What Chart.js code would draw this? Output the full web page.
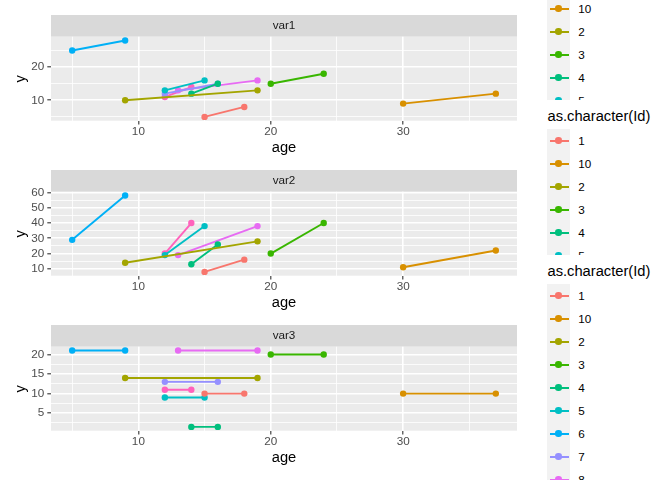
<!DOCTYPE html>
<html>
<head>
<meta charset="utf-8">
<script src="https://cdn.jsdelivr.net/npm/chart.js@4"></script>
<style>
  html, body { margin: 0; padding: 0; background: #fff; }
  body { width: 672px; height: 480px; position: relative; overflow: hidden;
         font-family: 'Liberation Sans', Arial, sans-serif; }
  canvas { position: absolute; left: 0; }
  .legend { position: absolute; left: 540px; width: 132px; height: 270px; background: #fff; }
  .legend-title { position: absolute; left: 7.5px; top: 0; height: 33.4px; line-height: 33.4px;
                  font-size: 14.7px; color: #000; white-space: nowrap; }
  .legend-row { position: absolute; left: 0; width: 132px; height: 23px; }
  .legend-key { position: absolute; left: 7px; top: 0; width: 23px; height: 23px; background: #F2F2F2; }
  .legend-line { position: absolute; left: 2.5px; top: 10.5px; width: 19px; height: 1.9px; }
  .legend-dot { position: absolute; left: 8.3px; top: 8.3px; width: 6.4px; height: 6.4px; border-radius: 50%; }
  .legend-label { position: absolute; left: 38.3px; top: 0; line-height: 23px; font-size: 11.7px; color: #000; }
</style>
</head>
<body>
<canvas id="chart1" width="672" height="160" style="top:0px"></canvas>
<canvas id="chart2" width="672" height="160" style="top:155px"></canvas>
<canvas id="chart3" width="672" height="160" style="top:310px"></canvas>
<script>
// ids in ggplot's (character) sort order
var ids = ['1', '10', '2', '3', '4', '5', '6', '7', '8', '9'];
var idColors = ['#F8766D', '#D89000', '#A3A500', '#39B600', '#00BF7D',
                '#00BFC4', '#00B0F6', '#9590FF', '#E76BF3', '#FF62BC'];

// two observations per id
var ages = [[15, 18], [30, 37], [9, 19], [20, 24], [14, 16],
            [12, 15], [5, 9], [12, 16], [13, 19], [12, 14]];
var var1 = [[5, 8], [9, 12], [10, 13], [15, 18], [12, 15],
            [13, 16], [25, 28], [12, 15], [13, 16], [11, 14]];
var var2 = [[8, 16], [11, 22], [14, 28], [20, 40], [13, 26],
            [19, 38], [29, 58], [null, null], [19, 38], [20, 40]];
var var3 = [[10, 10], [10, 10], [14, 14], [20, 20], [1.5, 1.5],
            [9, 9], [21, 21], [13, 13], [21, 21], [11, 11]];

var facetNames = ['var1', 'var2', 'var3'];

var xMajor = [10, 20, 30];
var xMinor = [5, 15, 25, 35];
var yMajor1 = [10, 20];
var yMinor1 = [5, 15, 25];
var yMajor2 = [10, 20, 30, 40, 50, 60];
var yMinor2 = [15, 25, 35, 45, 55];
var yMajor3 = [5, 10, 15, 20];
var yMinor3 = [2.5, 7.5, 12.5, 17.5];

var FONT = "'Liberation Sans', Arial, sans-serif";

// ggplot style 5% expansion of the data range
function expandRange(values) {
    var flat = [];
    values.forEach(function(p) { p.forEach(function(v) { if (v !== null) flat.push(v); }); });
    var lo = Math.min.apply(null, flat), hi = Math.max.apply(null, flat);
    var pad = (hi - lo) * 0.05;
    return { min: lo - pad, max: hi + pad };
}

function makeTicks(major, minor) {
    return major.concat(minor).sort(function(a, b) { return a - b; }).map(function(v) {
        return { value: v, isMajor: major.indexOf(v) >= 0 };
    });
}

function gridOptions() {
    return {
        color: '#FFFFFF',
        lineWidth: function(ctx) { return ctx.tick && ctx.tick.isMajor ? 1.6 : 0.8; },
        drawTicks: true,
        tickLength: 3.7,
        tickWidth: 1.1,
        tickColor: function(ctx) { return ctx.tick && ctx.tick.isMajor ? '#333333' : 'rgba(0,0,0,0)'; }
    };
}

function tickLabel(value, index, ticks) {
    return ticks[index].isMajor ? String(value) : '';
}

var panelPlugin = {
    id: 'panel',
    beforeDraw: function(chart) {
        var a = chart.chartArea, ctx = chart.ctx;
        ctx.save();
        ctx.fillStyle = '#D9D9D9';
        ctx.fillRect(a.left, 15, a.right - a.left, a.top - 15);
        ctx.fillStyle = '#EBEBEB';
        ctx.fillRect(a.left, a.top, a.right - a.left, a.bottom - a.top);
        ctx.restore();
    }
};

function makeChart(canvasId, name, values, yMajor, yMinor) {
    var xr = expandRange(ages);
    var yr = expandRange(values);
    var datasets = ids.map(function(id, i) {
        return {
            label: id,
            data: ages[i].map(function(a, j) { return { x: a, y: values[i][j] }; }),
            borderColor: idColors[i],
            backgroundColor: idColors[i],
            showLine: true,
            borderWidth: 1.9,
            pointRadius: 3.2,
            pointBorderWidth: 0,
            pointHoverRadius: 3.2
        };
    });
    return new Chart(document.getElementById(canvasId), {
        type: 'scatter',
        data: { datasets: datasets },
        plugins: [panelPlugin],
        options: {
            responsive: false,
            animation: false,
            events: [],
            layout: { padding: { top: 15, right: 155, left: 0, bottom: 0 } },
            plugins: {
                legend: { display: false },
                tooltip: { enabled: false },
                title: {
                    display: true,
                    text: name,
                    fullSize: false,
                    color: '#1A1A1A',
                    font: { family: FONT, size: 11.7, weight: 'normal' },
                    padding: { top: 3.85, bottom: 3.85 }
                }
            },
            scales: {
                x: {
                    type: 'linear',
                    min: xr.min,
                    max: xr.max,
                    afterBuildTicks: function(s) { s.ticks = makeTicks(xMajor, xMinor); },
                    afterFit: function(s) { s.height = 39.3; },
                    grid: gridOptions(),
                    border: { display: false },
                    ticks: { autoSkip: false, maxRotation: 0, padding: 0.5, color: '#4D4D4D',
                             font: { family: FONT, size: 11.7 }, callback: tickLabel },
                    title: { display: true, text: 'age', color: '#000000',
                             font: { family: FONT, size: 14.7 }, padding: { top: 0, bottom: 2.9 } }
                },
                y: {
                    type: 'linear',
                    min: yr.min,
                    max: yr.max,
                    afterBuildTicks: function(s) { s.ticks = makeTicks(yMajor, yMinor); },
                    afterFit: function(s) { s.width = 51; },
                    grid: gridOptions(),
                    border: { display: false },
                    ticks: { autoSkip: false, padding: 3, color: '#4D4D4D',
                             font: { family: FONT, size: 11.7 }, callback: tickLabel },
                    title: { display: true, text: 'y', color: '#000000',
                             font: { family: FONT, size: 14.7 }, padding: { top: 11.9, bottom: 0 } }
                }
            }
        }
    });
}

function buildLegend(k) {
    var box = document.createElement('div');
    box.className = 'legend';
    box.style.top = (-55 + 155 * k) + 'px';
    box.style.zIndex = 10 + k;
    var title = document.createElement('div');
    title.className = 'legend-title';
    title.textContent = 'as.character(Id)';
    box.appendChild(title);
    ids.forEach(function(id, i) {
        var row = document.createElement('div');
        row.className = 'legend-row';
        row.style.top = (29.2 + 23 * i) + 'px';
        var key = document.createElement('div');
        key.className = 'legend-key';
        var line = document.createElement('div');
        line.className = 'legend-line';
        line.style.background = idColors[i];
        var dot = document.createElement('div');
        dot.className = 'legend-dot';
        dot.style.background = idColors[i];
        key.appendChild(line);
        key.appendChild(dot);
        var label = document.createElement('div');
        label.className = 'legend-label';
        label.textContent = id;
        row.appendChild(key);
        row.appendChild(label);
        box.appendChild(row);
    });
    document.body.appendChild(box);
}

makeChart('chart1', facetNames[0], var1, yMajor1, yMinor1);
makeChart('chart2', facetNames[1], var2, yMajor2, yMinor2);
makeChart('chart3', facetNames[2], var3, yMajor3, yMinor3);
[0, 1, 2].forEach(buildLegend);
</script>
</body>
</html>
